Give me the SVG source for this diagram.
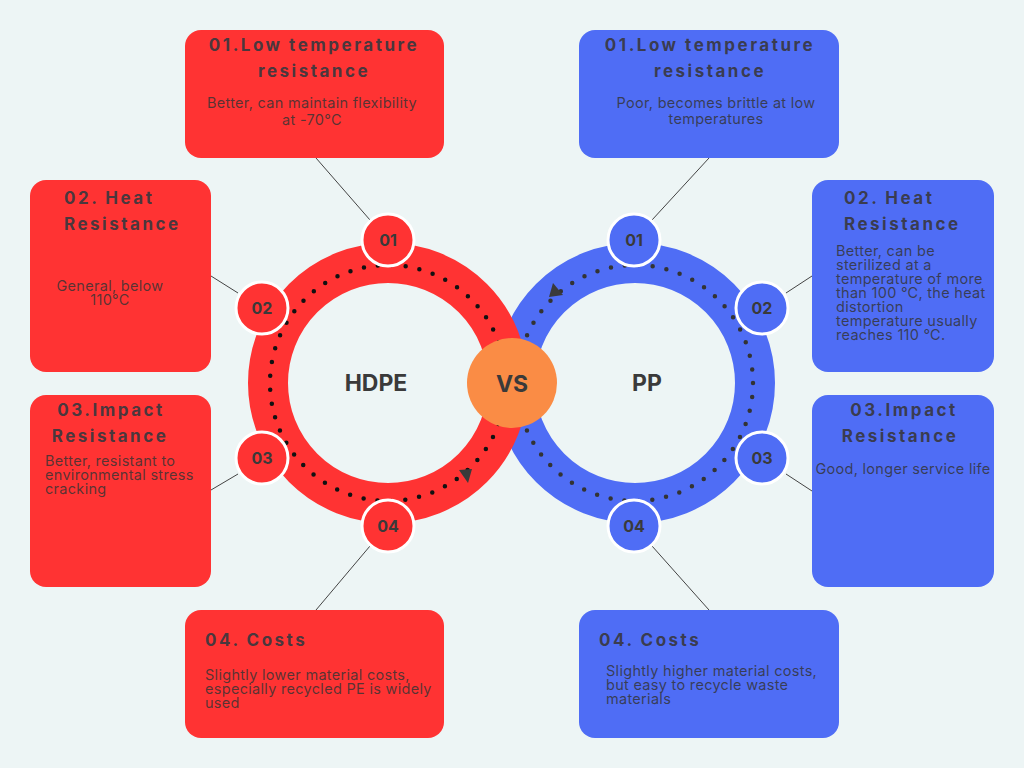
<svg xmlns="http://www.w3.org/2000/svg" width="1024" height="768" viewBox="0 0 1024 768">
<style>
.bg{fill:#EDF5F5}
.red{fill:#FF3333}
.blue{fill:#4F6DF5}
.ttl{font-family:Inter,"Liberation Sans",sans-serif;font-weight:700;font-size:17px;letter-spacing:2.5px;fill:#38383f;fill-opacity:0.92}
.body{font-family:Inter,"Liberation Sans",sans-serif;font-size:14.5px;letter-spacing:0.3px;fill:#333;fill-opacity:0.82}
.num{font-family:Inter,"Liberation Sans",sans-serif;font-weight:700;font-size:16px;fill:#3a3a3a;text-anchor:middle}
.big{font-family:Inter,"Liberation Sans",sans-serif;font-weight:700;font-size:23px;fill:#3a3a3a;text-anchor:middle}
.mid{text-anchor:middle}
.conn{stroke:#444;stroke-width:1;fill:none}
.badgeR{fill:#FF3333;stroke:#fff;stroke-width:3}
.badgeB{fill:#4F6DF5;stroke:#fff;stroke-width:3}
</style>
<rect class="bg" x="0" y="0" width="1024" height="768"/>

<g id="connectors">
<line class="conn" x1="316" y1="158" x2="370" y2="220"/>
<line class="conn" x1="709" y1="158" x2="652" y2="220"/>
<line class="conn" x1="211" y1="276" x2="238" y2="293"/>
<line class="conn" x1="812" y1="276" x2="786" y2="293"/>
<line class="conn" x1="211" y1="490" x2="238" y2="474"/>
<line class="conn" x1="812" y1="491" x2="786" y2="474"/>
<line class="conn" x1="370" y1="546" x2="316" y2="610"/>
<line class="conn" x1="652" y1="546" x2="709" y2="610"/>
</g>

<g id="ring-pp">
<circle cx="635" cy="383" r="120" fill="none" stroke="#4F6DF5" stroke-width="40"/>
<circle cx="635" cy="383" r="118" fill="none" stroke="#333" stroke-width="4.5" stroke-linecap="round" stroke-dasharray="0 13.99"/>
<polygon points="553,283 563,295 549,297" fill="#3a3a3a"/>
</g>
<g id="ring-hdpe">
<circle cx="388" cy="383" r="120" fill="none" stroke="#FF3333" stroke-width="40"/>
<circle cx="388" cy="383" r="118" fill="none" stroke="#111" stroke-width="4.5" stroke-linecap="round" stroke-dasharray="0 13.99"/>
<polygon points="459,470 472,469 468,483" fill="#3a3a3a"/>
</g>

<g id="hdpe-label"><text class="big" x="376" y="391">HDPE</text></g>
<g id="pp-label"><text class="big" x="647" y="391">PP</text></g>
<g id="vs">
<circle cx="512" cy="383" r="45" fill="#FA8C45"/>
<text class="big" x="512" y="392">VS</text>
</g>

<g id="badge-l1"><circle class="badgeR" cx="388" cy="240" r="26"/><text class="num" x="388" y="246">01</text></g>
<g id="badge-l2"><circle class="badgeR" cx="262" cy="308" r="26"/><text class="num" x="262" y="314">02</text></g>
<g id="badge-l3"><circle class="badgeR" cx="262" cy="458" r="26"/><text class="num" x="262" y="464">03</text></g>
<g id="badge-l4"><circle class="badgeR" cx="388" cy="526" r="26"/><text class="num" x="388" y="532">04</text></g>
<g id="badge-r1"><circle class="badgeB" cx="634" cy="240" r="26"/><text class="num" x="634" y="246">01</text></g>
<g id="badge-r2"><circle class="badgeB" cx="762" cy="308" r="26"/><text class="num" x="762" y="314">02</text></g>
<g id="badge-r3"><circle class="badgeB" cx="762" cy="458" r="26"/><text class="num" x="762" y="464">03</text></g>
<g id="badge-r4"><circle class="badgeB" cx="634" cy="526" r="26"/><text class="num" x="634" y="532">04</text></g>

<g id="box-l1">
<rect class="red" x="185" y="30" width="259" height="128" rx="16"/>
<text class="ttl mid" x="314" y="51">01.Low temperature</text>
<text class="ttl mid" x="314" y="77">resistance</text>
<text class="body mid" x="312" y="108">Better, can maintain flexibility</text>
<text class="body mid" x="312" y="125">at -70°C</text>
</g>
<g id="box-r1">
<rect class="blue" x="579" y="30" width="260" height="128" rx="16"/>
<text class="ttl mid" x="710" y="51">01.Low temperature</text>
<text class="ttl mid" x="710" y="77">resistance</text>
<text class="body mid" x="716" y="108">Poor, becomes brittle at low</text>
<text class="body mid" x="716" y="124">temperatures</text>
</g>
<g id="box-l2">
<rect class="red" x="30" y="180" width="181" height="192" rx="16"/>
<text class="ttl" x="64" y="204">02. Heat</text>
<text class="ttl" x="64" y="230">Resistance</text>
<text class="body mid" x="110" y="291">General, below</text>
<text class="body mid" x="110" y="305">110°C</text>
</g>
<g id="box-r2">
<rect class="blue" x="812" y="180" width="182" height="192" rx="16"/>
<text class="ttl" x="844" y="204">02. Heat</text>
<text class="ttl" x="844" y="230">Resistance</text>
<text class="body" x="836" y="256">Better, can be</text>
<text class="body" x="836" y="270">sterilized at a</text>
<text class="body" x="836" y="284">temperature of more</text>
<text class="body" x="836" y="298">than 100 ℃, the heat</text>
<text class="body" x="836" y="312">distortion</text>
<text class="body" x="836" y="326">temperature usually</text>
<text class="body" x="836" y="340">reaches 110 ℃.</text>
</g>
<g id="box-l3">
<rect class="red" x="30" y="395" width="181" height="192" rx="16"/>
<text class="ttl mid" x="111" y="416">03.Impact</text>
<text class="ttl mid" x="110" y="442">Resistance</text>
<text class="body" x="45" y="466">Better, resistant to</text>
<text class="body" x="45" y="480">environmental stress</text>
<text class="body" x="45" y="494">cracking</text>
</g>
<g id="box-r3">
<rect class="blue" x="812" y="395" width="182" height="192" rx="16"/>
<text class="ttl mid" x="904" y="416">03.Impact</text>
<text class="ttl mid" x="900" y="442">Resistance</text>
<text class="body mid" x="903" y="474">Good, longer service life</text>
</g>
<g id="box-l4">
<rect class="red" x="185" y="610" width="259" height="128" rx="16"/>
<text class="ttl" x="205" y="646">04. Costs</text>
<text class="body" x="205" y="680">Slightly lower material costs,</text>
<text class="body" x="205" y="694">especially recycled PE is widely</text>
<text class="body" x="205" y="708">used</text>
</g>
<g id="box-r4">
<rect class="blue" x="579" y="610" width="260" height="128" rx="16"/>
<text class="ttl" x="599" y="646">04. Costs</text>
<text class="body" x="606" y="676">Slightly higher material costs,</text>
<text class="body" x="606" y="690">but easy to recycle waste</text>
<text class="body" x="606" y="704">materials</text>
</g>
</svg>
